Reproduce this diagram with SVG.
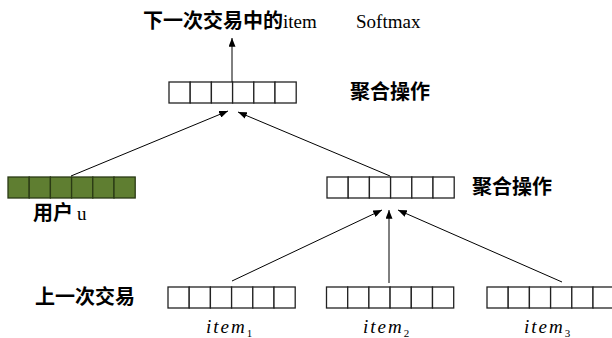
<svg xmlns="http://www.w3.org/2000/svg" width="612" height="338" viewBox="0 0 612 338">
<defs>
<style>
.cell{fill:#ffffff;stroke:#222;stroke-width:1.3}
.gcell{fill:#5f7e31;stroke:#2a3a14;stroke-width:1.3}
.cn{font-family:"Noto Sans CJK SC","Noto Sans",sans-serif;font-weight:bold;font-size:20px;letter-spacing:0px;fill:#000}
.rm{font-family:"Liberation Serif",serif;font-size:19px;fill:#000}
.it{font-family:"Liberation Serif",serif;font-style:italic;font-size:19px;letter-spacing:2px;fill:#000}
.sub{font-family:"Liberation Serif",serif;font-size:11px;fill:#000}
.conn{stroke:#000;stroke-width:1;fill:none;marker-end:url(#ah)}
</style>
<marker id="ah" viewBox="0 0 10 8" refX="10" refY="4" markerWidth="9" markerHeight="7" markerUnits="userSpaceOnUse" orient="auto">
<path d="M0,0 L10,4 L0,8 Z" fill="#000"/>
</marker>
<g id="vec6">
<rect class="cell" x="0" y="0" width="21.2" height="21"/>
<rect class="cell" x="21.2" y="0" width="21.2" height="21"/>
<rect class="cell" x="42.4" y="0" width="21.2" height="21"/>
<rect class="cell" x="63.6" y="0" width="21.2" height="21"/>
<rect class="cell" x="84.8" y="0" width="21.2" height="21"/>
<rect class="cell" x="106" y="0" width="21.2" height="21"/>
</g>
</defs>
<rect width="612" height="338" fill="#ffffff"/>

<g id="connectors">
<line class="conn" x1="232" y1="82" x2="232" y2="38"/>
<line class="conn" x1="71" y1="176" x2="228" y2="111"/>
<line class="conn" x1="390" y1="176" x2="238" y2="112"/>
<line class="conn" x1="232" y1="281" x2="382" y2="210"/>
<line class="conn" x1="389" y1="283" x2="389" y2="210"/>
<line class="conn" x1="562" y1="282" x2="398" y2="210"/>
</g>

<g id="output">
<text x="143" y="28"><tspan class="cn" letter-spacing="0.8">下一次交易中的</tspan><tspan class="rm" letter-spacing="0">item</tspan></text>
<text class="rm" x="356" y="28">Softmax</text>
</g>

<g id="agg-top">
<use href="#vec6" x="169" y="82"/>
<text class="cn" x="350" y="99">聚合操作</text>
</g>

<g id="user">
<rect class="gcell" x="8" y="177" width="21.2" height="21"/>
<rect class="gcell" x="29.2" y="177" width="21.2" height="21"/>
<rect class="gcell" x="50.4" y="177" width="21.2" height="21"/>
<rect class="gcell" x="71.6" y="177" width="21.2" height="21"/>
<rect class="gcell" x="92.8" y="177" width="21.2" height="21"/>
<rect class="gcell" x="114" y="177" width="21.2" height="21"/>
<text x="33" y="220"><tspan class="cn">用户</tspan><tspan class="rm" dx="4" letter-spacing="0">u</tspan></text>
</g>

<g id="agg-mid">
<use href="#vec6" x="327" y="177"/>
<text class="cn" x="472" y="194">聚合操作</text>
</g>

<g id="prev-label">
<text class="cn" x="35" y="304" letter-spacing="0.6">上一次交易</text>
</g>

<g id="item1">
<use href="#vec6" x="168" y="287"/>
<text x="206" y="333"><tspan class="it">item</tspan><tspan class="sub" dy="4">1</tspan></text>
</g>

<g id="item2">
<use href="#vec6" x="326.5" y="287"/>
<text x="363" y="333"><tspan class="it">item</tspan><tspan class="sub" dy="4">2</tspan></text>
</g>

<g id="item3">
<use href="#vec6" x="487" y="287"/>
<text x="524" y="333"><tspan class="it">item</tspan><tspan class="sub" dy="4">3</tspan></text>
</g>
</svg>
